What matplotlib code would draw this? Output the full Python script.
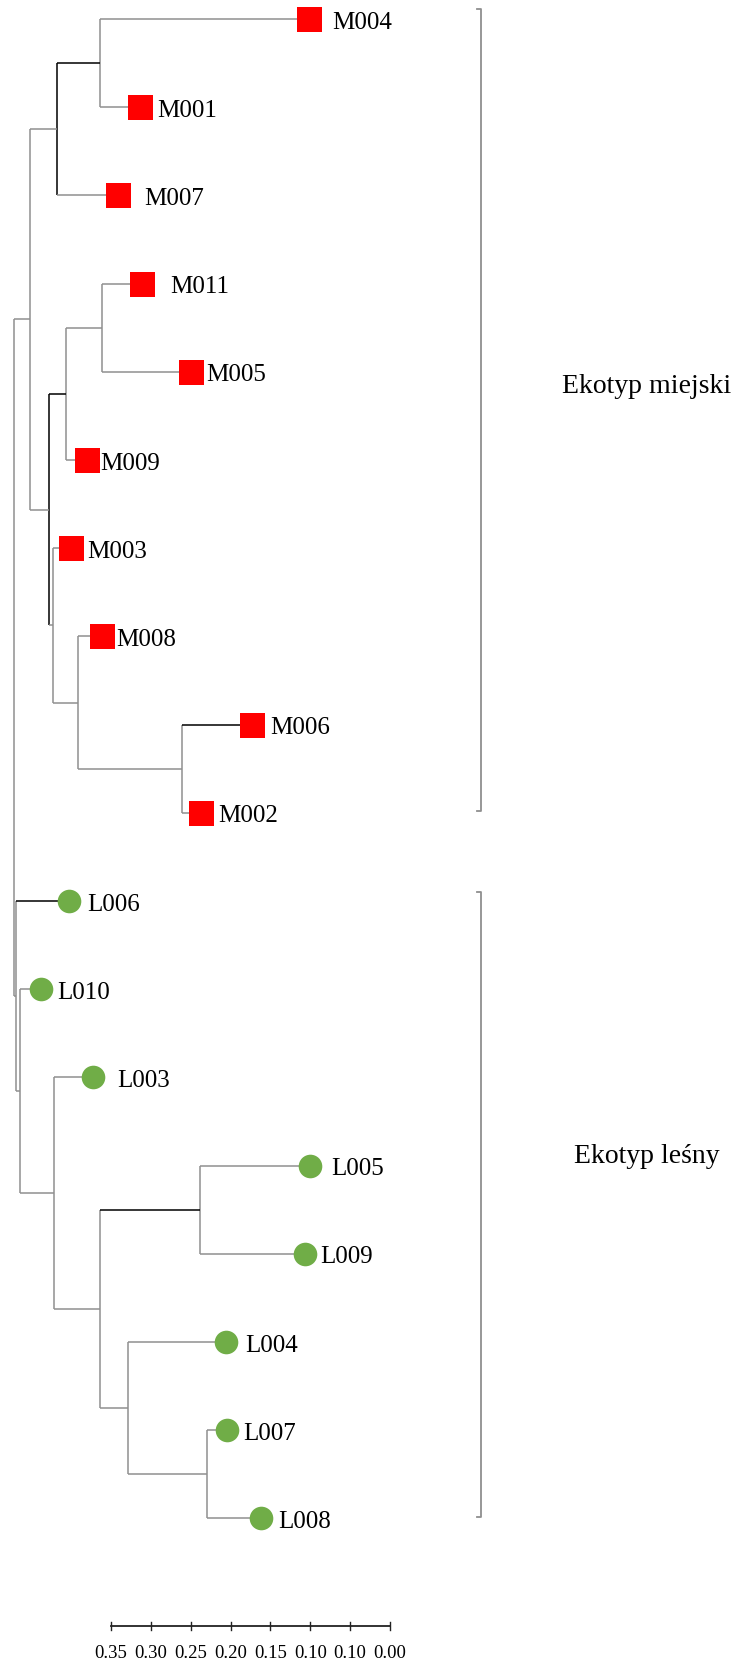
import matplotlib

matplotlib.use("Agg")
import matplotlib.pyplot as plt

# leaves, top to bottom, with their distance from the root (scale-bar units)
leaf_names = ["M004", "M001", "M007", "M011", "M005", "M009", "M003", "M008", "M006",
              "M002", "L006", "L010", "L003", "L005", "L009", "L004", "L007", "L008"]
leaf_dist = [0.370, 0.158, 0.130, 0.161, 0.222, 0.092, 0.072, 0.110, 0.299,
             0.235, 0.069, 0.034, 0.099, 0.371, 0.365, 0.266, 0.267, 0.310]

# internal nodes: name -> (child 1, child 2, distance from root)
node_names = ["A", "B", "C", "D", "E", "F", "G", "H", "I",
              "P", "Q", "R", "S", "T", "U", "V", "root"]
node_children = [("M004", "M001"), ("A", "M007"), ("M011", "M005"), ("C", "M009"),
                 ("M006", "M002"), ("M008", "E"), ("M003", "F"), ("D", "G"), ("B", "H"),
                 ("L005", "L009"), ("L007", "L008"), ("L004", "Q"), ("P", "R"),
                 ("L003", "S"), ("L010", "T"), ("L006", "U"), ("I", "V")]
node_dist = [0.108, 0.054, 0.110, 0.065, 0.211, 0.080, 0.049, 0.044, 0.020,
             0.233, 0.242, 0.143, 0.108, 0.050, 0.0075, 0.0025, 0.0]

group_names = ["Ekotyp miejski", "Ekotyp leśny"]
group_first = [0, 10]
group_last = [9, 17]

scale_labels = ["0.35", "0.30", "0.25", "0.20", "0.15", "0.10", "0.10", "0.00"]
scale_steps = [0.0, 0.05, 0.10, 0.15, 0.20, 0.25, 0.30, 0.35]

# styling / layout
PX = 797.0      # pixels per distance unit
ROW = 88.2      # pixels per leaf row
GRAY = "#8f8f8f"
RED = "#ff0000"
GREEN = "#70ad47"
SERIF = ["Liberation Serif", "DejaVu Serif"]
label_pad_px = [23, 17, 27, 28, 15, 13, 16, 15, 18, 17, 18, 16, 24, 22, 15, 19, 16, 17]
dark_vertical = {"B", "H"}
dark_horizontal = {"A", "D", "M006", "L006", "P"}

x_of = dict(zip(leaf_names, leaf_dist))
x_of.update(zip(node_names, node_dist))
children = dict(zip(node_names, node_children))
y_of = {name: float(i) for i, name in enumerate(leaf_names)}


def node_y(name):
    if name not in y_of:
        c1, c2 = children[name]
        y_of[name] = (node_y(c1) + node_y(c2)) / 2
    return y_of[name]


node_y("root")

fig = plt.figure(figsize=(7.39, 16.65), dpi=100)
ax = fig.add_axes([0, 0, 1, 1])
ax.set_xlim(-14 / PX, (739 - 14) / PX)
ax.set_ylim((1665 - 20) / ROW, -20 / ROW)
ax.axis("off")

for name in node_names:
    c1, c2 = children[name]
    x = x_of[name]
    ax.plot([x, x], [y_of[c1], y_of[c2]],
            color="black" if name in dark_vertical else GRAY, lw=1.1, solid_capstyle="butt")
    for c in (c1, c2):
        ax.plot([x, x_of[c]], [y_of[c], y_of[c]],
                color="black" if c in dark_horizontal else GRAY, lw=1.1,
                solid_capstyle="butt")

for i, name in enumerate(leaf_names):
    urban = name.startswith("M")
    ax.plot(x_of[name], y_of[name], marker="s" if urban else "o",
            markersize=18 if urban else 17, color=RED if urban else GREEN,
            markeredgewidth=0, zorder=3)
    ax.text(x_of[name] + label_pad_px[i] / PX, y_of[name] + 0.03, name,
            fontsize=18, family=SERIF, ha="left", va="center")

# group brackets
bracket_x = (481 - 14) / PX
hook = 4 / PX
label_y = [4.16, 12.89]
for g, gname in enumerate(group_names):
    top = group_first[g] - (0.11 if g == 0 else 0.10)
    bottom = group_last[g] - (0.02 if g == 0 else 0.02)
    ax.plot([bracket_x - hook, bracket_x, bracket_x, bracket_x - hook],
            [top, top, bottom, bottom], color=GRAY, lw=1.3)
    ax.text((647 - 14) / PX, label_y[g], gname, fontsize=20, family=SERIF,
            ha="center", va="center")

# scale bar
bar_x0 = (111 - 14) / PX
bar_y = (1627 - 20) / ROW
tick_h = 4 / ROW
ticks = [bar_x0 + s for s in scale_steps]
ax.plot([ticks[0], ticks[-1]], [bar_y, bar_y], color="#222222", lw=1.3)
for tx, lab in zip(ticks, scale_labels):
    ax.plot([tx, tx], [bar_y - tick_h, bar_y + tick_h], color="#222222", lw=1.0)
    ax.text(tx, bar_y + 0.30, lab, fontsize=13.5, family=SERIF, ha="center", va="center")

fig.savefig("out.png", dpi=100)
plt.close(fig)
